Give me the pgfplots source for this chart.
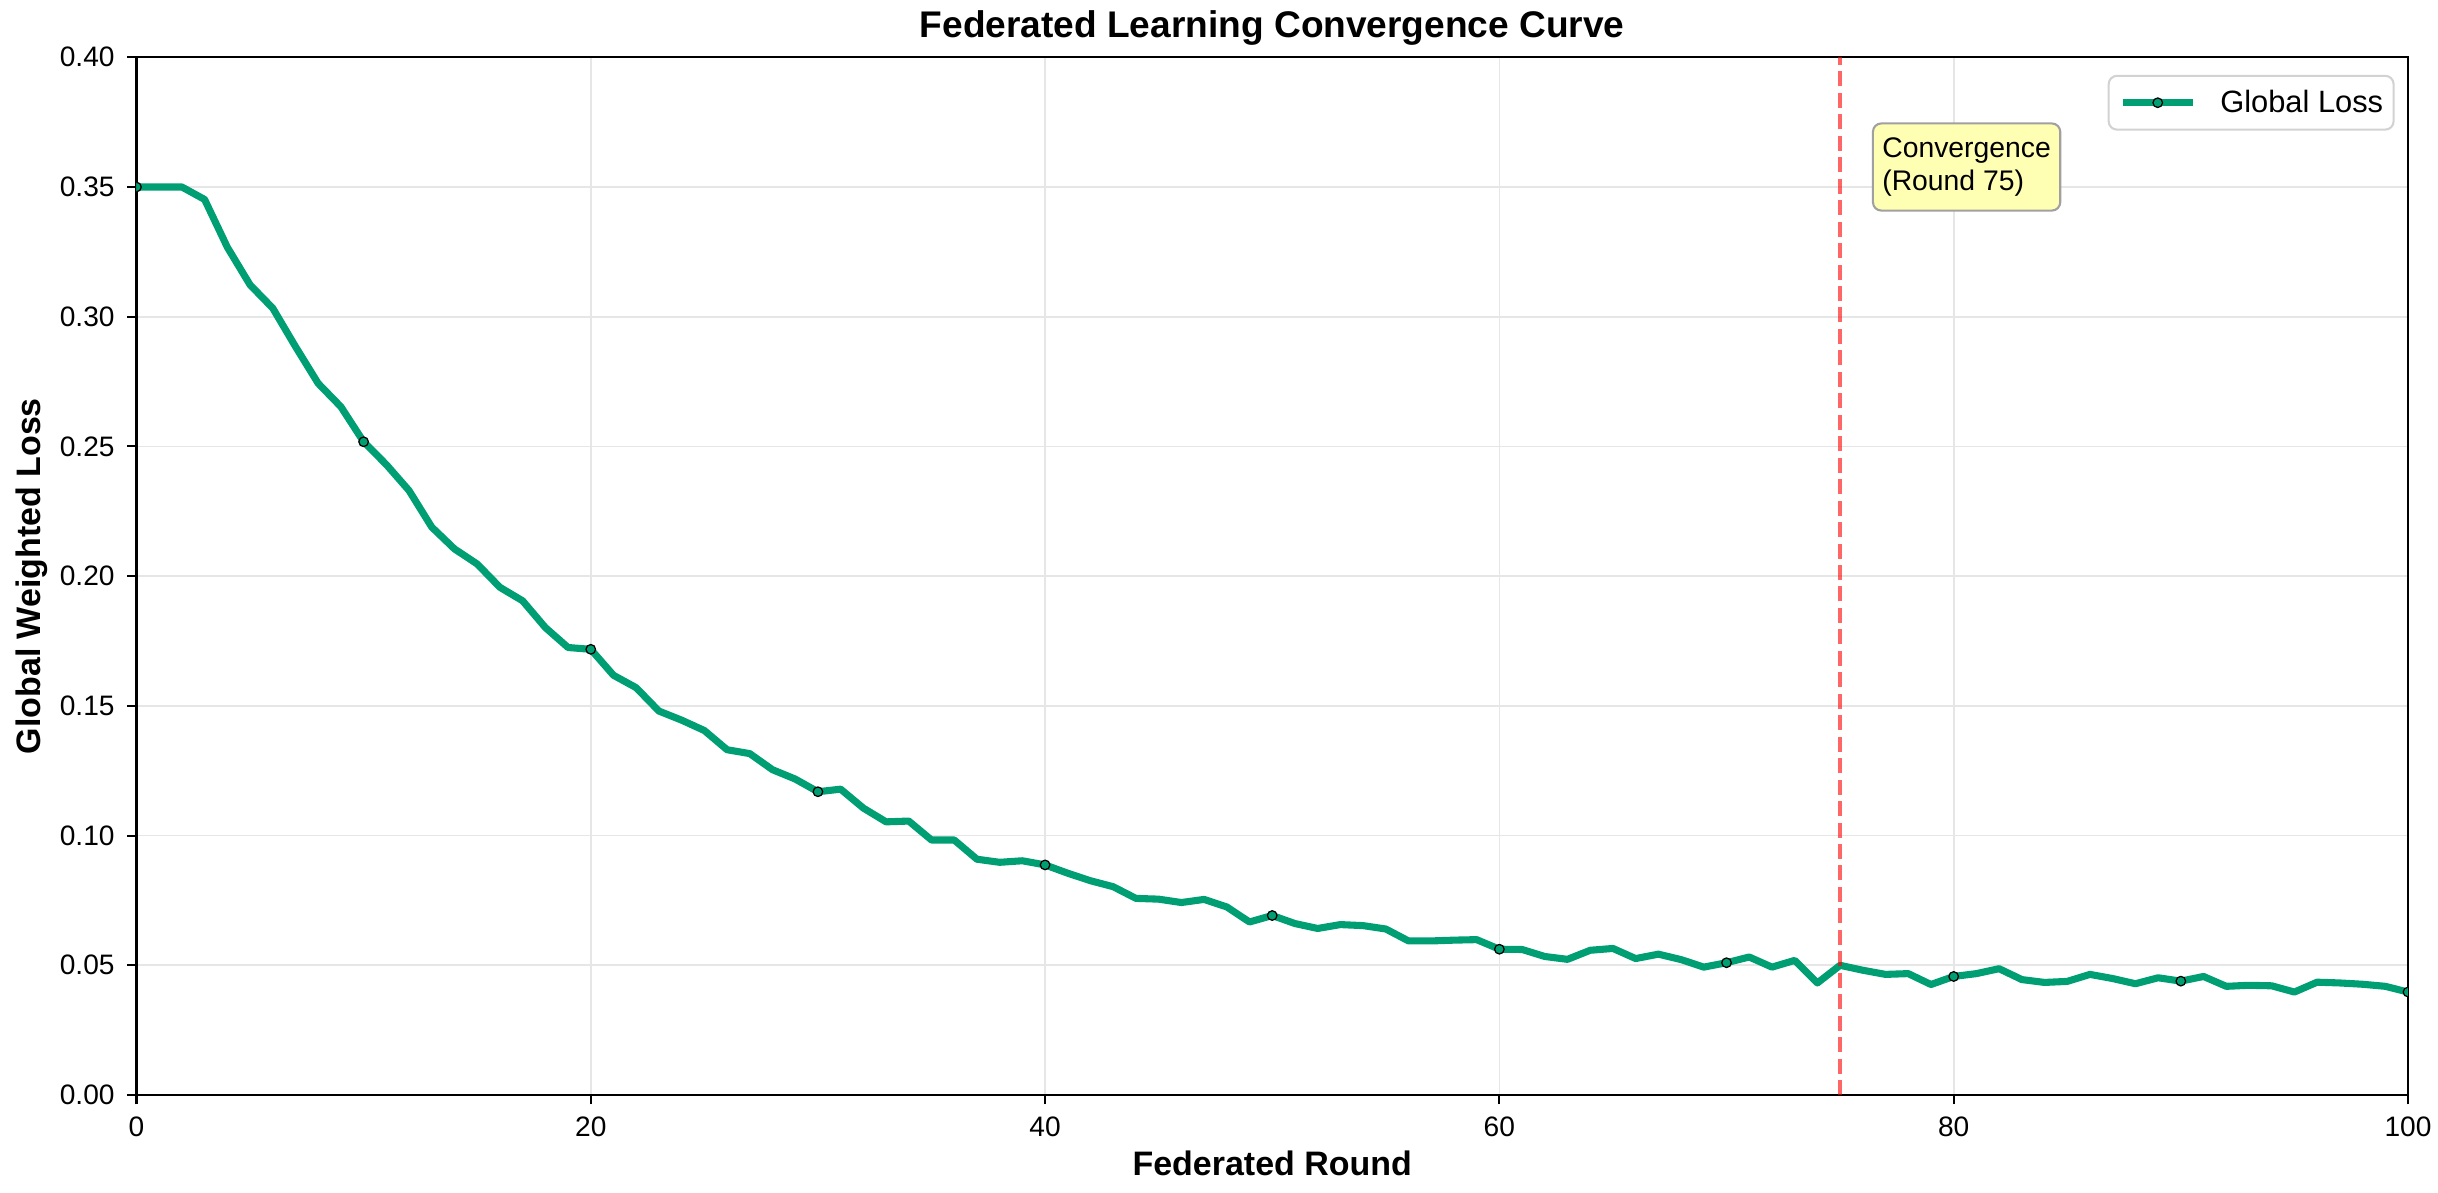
\documentclass[border=0pt]{standalone}
\usepackage{fontspec}
\setmainfont{Liberation Sans}
\usepackage{pgfplots}
\pgfplotsset{compat=1.18}
\usepackage{pgfplotstable}
\definecolor{lossgreen}{RGB}{0,158,115}
\definecolor{gridgray}{RGB}{230,230,230}
\definecolor{annofill}{RGB}{255,255,179}
\definecolor{annoedge}{RGB}{160,160,160}
\definecolor{legedge}{RGB}{210,210,210}

\pgfplotstableread{
round loss
0 0.3500
1 0.3500
2 0.3500
3 0.3452
4 0.3268
5 0.3123
6 0.3033
7 0.2885
8 0.2743
9 0.2653
10 0.2518
11 0.2430
12 0.2330
13 0.2189
14 0.2105
15 0.2047
16 0.1957
17 0.1905
18 0.1802
19 0.1725
20 0.1718
21 0.1618
22 0.1570
23 0.1480
24 0.1445
25 0.1405
26 0.1331
27 0.1316
28 0.1254
29 0.1218
30 0.1169
31 0.1179
32 0.1106
33 0.1053
34 0.1056
35 0.0983
36 0.0983
37 0.0909
38 0.0897
39 0.0903
40 0.0887
41 0.0855
42 0.0826
43 0.0803
44 0.0758
45 0.0755
46 0.0742
47 0.0754
48 0.0725
49 0.0667
50 0.0692
51 0.0661
52 0.0642
53 0.0657
54 0.0653
55 0.0640
56 0.0594
57 0.0594
58 0.0597
59 0.0599
60 0.0562
61 0.0561
62 0.0534
63 0.0523
64 0.0558
65 0.0565
66 0.0526
67 0.0543
68 0.0522
69 0.0493
70 0.0510
71 0.0532
72 0.0493
73 0.0519
74 0.0432
75 0.0500
76 0.0481
77 0.0465
78 0.0468
79 0.0426
80 0.0457
81 0.0468
82 0.0487
83 0.0445
84 0.0434
85 0.0438
86 0.0465
87 0.0449
88 0.0429
89 0.0452
90 0.0439
91 0.0457
92 0.0419
93 0.0423
94 0.0421
95 0.0397
96 0.0435
97 0.0432
98 0.0427
99 0.0419
100 0.0397
}\losstable

\begin{document}
\begin{tikzpicture}
\useasboundingbox (-65.5pt,-47.0pt) rectangle (1104.7pt,525.6pt);
\begin{axis}[
  at={(0pt,0pt)}, anchor=south west,
  scale only axis, width=1090.3pt, height=498.1pt,
  xmin=0, xmax=100, ymin=0, ymax=0.40,
  xtick={0,20,40,60,80,100},
  ytick={0,0.05,0.10,0.15,0.20,0.25,0.30,0.35,0.40},
  /pgf/number format/assume math mode=true,
  yticklabel style={/pgf/number format/.cd, fixed, fixed zerofill, precision=2},
  tick label style={font=\fontsize{13.5}{15}\selectfont, inner sep=0pt},
  xticklabel shift=5.9pt,
  yticklabel shift=5.8pt,
  tick align=outside, tick pos=left,
  major tick length=4.5pt,
  every tick/.style={black, line width=1pt},
  axis line style={black, line width=1.1pt},
  grid=major,
  major grid style={gridgray, line width=0.8pt},
  clip marker paths=true,
  title={Federated Learning Convergence Curve},
  title style={at={(axis description cs:0.5,1.0283)}, anchor=center, yshift=-6pt, font=\bfseries\fontsize{17.8}{21}\selectfont, inner sep=0pt},
  xlabel={Federated Round},
  ylabel={Global Weighted Loss},
  xlabel style={at={(axis description cs:0.5,-0.0654)}, anchor=center, font=\bfseries\fontsize{16.3}{19}\selectfont, inner sep=0pt},
  ylabel style={at={(axis description cs:-0.0463,0.5)}, anchor=center, font=\bfseries\fontsize{16.3}{19}\selectfont, inner sep=0pt},
  legend style={at={(axis description cs:0.99413,0.98314)}, anchor=north east,
    draw=legedge, line width=1pt, rounded corners=4pt, fill=white,
    font=\fontsize{14.8}{17}\selectfont, inner xsep=5pt, inner ysep=6.8pt,
    nodes={inner sep=0pt}, column sep=0pt,
    /tikz/every odd column/.append style={column sep=11.5pt}},
  legend image code/.code={
    \draw[#1, mark=none] (0pt,0pt) -- (33.7pt,0pt);
    \path[#1, draw=none] plot coordinates {(16.85pt,0pt)};
  },
]
\addplot[color=lossgreen, line width=3.4pt, line join=round,
  mark=*, mark repeat=10, mark phase=1, mark size=2.3pt,
  mark options={fill=lossgreen, draw=black, line width=0.6pt, solid}]
  table[x=round, y=loss] {\losstable};
\addlegendentry{Global Loss}
\addplot[red, opacity=0.6, line width=1.9pt, dash pattern=on 7.2pt off 3.1pt, forget plot]
  coordinates {(75,0) (75,0.40)};
\node[anchor=north west, draw=annoedge, line width=1pt, fill=annofill,
  rounded corners=4pt, align=left, inner xsep=4.5pt, inner ysep=6.7pt,
  font=\fontsize{13.6}{16.1}\selectfont] at (axis cs:76.4,0.3749)
  {Convergence\\(Round 75)};
\end{axis}
\end{tikzpicture}
\end{document}
